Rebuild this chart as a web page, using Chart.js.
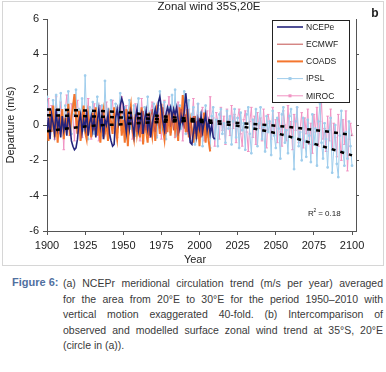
<!DOCTYPE html>
<html>
<head>
<meta charset="utf-8">
<script src="https://cdn.jsdelivr.net/npm/chart.js@4.4.0/dist/chart.umd.min.js"></script>
<style>
  body { margin: 0; background: #fff; }
  #wrap { position: relative; width: 386px; height: 372px; overflow: hidden; }
  #frame { position: absolute; left: 2px; top: 1px; width: 380px; height: 263px; border: 1px solid #d6d6d6; }
  #c { position: absolute; left: 0; top: 0; }
  .fig { position: absolute; left: 12px; top: 276px; font: bold 11px "Liberation Sans", Arial, sans-serif; color: #50709f; }
  .ln { position: absolute; left: 63px; width: 320px; font: 10.5px "Liberation Sans", Arial, sans-serif; color: #3a3a3a;
        white-space: nowrap; text-align: justify; text-align-last: justify; line-height: 15px; }
  .ln.last { text-align-last: left; }
</style>
</head>
<body>
<div id="wrap">
  <div id="frame"></div>
  <canvas id="c" width="386" height="268"></canvas>
  <div class="fig">Figure 6:</div>
  <div class="ln" style="top:276px">(a) NCEPr meridional circulation trend (m/s per year) averaged</div>
  <div class="ln" style="top:291.5px">for the area from 20°E to 30°E for the period 1950–2010 with</div>
  <div class="ln" style="top:307px">vertical motion exaggerated 40-fold. (b) Intercomparison of</div>
  <div class="ln" style="top:322.5px">observed and modelled surface zonal wind trend at 35°S, 20°E</div>
  <div class="ln last" style="top:338px">(circle in (a)).</div>
</div>
<script>
// axis ticks
const yearTicks = [1900, 1925, 1950, 1975, 2000, 2025, 2050, 2075, 2100];
const depTicks = [-6, -4, -2, 0, 2, 4, 6];

// NCEPe 1900-2010
const ncepStart = 1900;
const ncep = [
  -0.3, 0.4, -0.8, 0.6, 0.1, -0.5, 0.9, -0.2, 0.3, -0.7,
  0.5, -0.3, 0.2, -0.6, 0.7, 0.0, -0.9, -1.2, -1.4, -1.3,
  -0.8, 0.2, 0.6, -0.4, 0.3, -0.2, 0.8, -0.6, 0.1, 0.5,
  -0.3, 0.4, -0.7, 0.2, 0.9, -0.1, 0.5, -0.8, 0.3, 0.0,
  0.6, -0.5, -0.9, -1.2, -1.1, 0.4, 0.9, 0.2, 1.1, 1.5,
  1.2, 0.3, -0.4, 0.5, -0.2, 0.7, 0.1, -0.6, 0.4, 0.9,
  -0.3, 0.2, 0.6, -0.5, 0.3, 0.8, -0.2, 0.4, -0.7, 0.1,
  0.5, 0.9, 0.3, 1.3, 1.6, 1.0, 0.2, -0.3, 0.6, 1.0,
  0.7, 1.0, 0.4, 0.9, 0.6, 1.0, 0.3, -0.2, 0.5, 0.1,
  0.8, 1.8, 0.9, -0.3, -1.0, -1.1, -0.4, 0.2, -0.6, 0.3,
  -0.2, 0.5, -0.4, 0.1, 0.6, -0.3, 0.2, -0.5, 0.0, -0.7, -0.8
];

// ECMWF 1958-2002
const ecmwfStart = 1958;
const ecmwf = [
  0.3, -0.4, 0.6, 0.1, -0.5, 0.8, 0.2, -0.3, 0.5, -0.6,
  0.4, 0.9, 0.0, -0.4, 0.7, 0.3, -0.2, 0.6, 1.0, 0.2,
  -0.5, 0.4, 0.8, -0.1, 0.5, -0.3, 0.7, 0.2, -0.6, 0.4,
  0.9, 0.3, -0.2, 0.6, -0.4, 0.1, -0.8, 0.3, 0.5, -0.5,
  0.2, -0.3, 0.4, -0.7, 0.1
];

// COADS 1900-2007
const coadsStart = 1900;
const coads = [
  0.2, -0.9, 0.8, -0.4, 1.1, -0.7, 0.3, -1.0, 0.6, -0.2,
  0.9, -0.8, 0.4, -0.3, 1.2, -0.6, 0.5, 1.0, 1.75, 0.4,
  -0.5, 0.8, -0.9, 0.2, 1.1, -0.4, -0.8, 0.6, 0.0, -0.7,
  0.7, -0.3, 1.0, -0.6, 0.3, -1.0, 0.5, 0.9, -0.4, 0.1,
  -0.9, 0.6, 0.2, -0.5, 1.0, -0.2, -0.8, 0.4, 0.8, -0.6,
  0.3, -1.0, 0.9, -1.2, 0.5, 1.1, -0.3, -0.8, 0.6, -0.5,
  0.2, -0.7, 1.0, -1.1, 0.4, -0.3, -1.0, 0.7, 0.1, -0.6,
  0.5, -0.9, 0.8, 0.3, -0.5, 1.2, -0.2, -0.8, 0.6, -0.4,
  0.9, -0.6, 0.2, 0.7, -0.3, 0.4, -0.9, 1.0, 0.1, 1.7,
  0.6, -0.4, 0.9, -0.7, 0.3, -0.2, -1.0, 0.5, -0.8, 0.2,
  -1.2, 0.4, -0.6, 0.7, -1.0, 0.1, -0.9, -1.5
];

// IPSL 1900-2100
const ipslStart = 1900;
const ipsl = [
  1.6, 0.2, 0.9, -0.3, 1.4, 0.5, 1.7, -0.2, 0.8, 1.8,
  0.3, -0.6, 1.1, 0.4, 1.9, 0.1, -0.5, 1.2, 0.6, 2.0,
  -0.4, 0.9, 0.2, 1.5, -0.3, 2.8, 0.4, -0.8, 1.0, 0.3,
  1.3, -0.5, 0.7, 1.6, -0.2, 0.5, 1.1, -0.6, 2.5, 0.2,
  0.9, -0.7, 1.4, 0.0, 0.6, 1.2, -0.4, 0.8, 1.8, -0.3,
  0.5, 1.0, -0.8, 0.6, 1.4, -0.2, 0.3, 1.1, -0.6, 0.8,
  1.5, -0.1, 0.4, -0.9, 1.0, 0.2, 1.6, -0.5, 0.7, -0.2,
  1.2, 0.3, -0.7, 0.9, 1.9, -0.3, 0.5, 1.3, -0.8, 0.6,
  1.0, -0.4, 1.7, 0.2, 2.0, -0.6, 0.4, 1.1, -0.2, 0.8,
  1.9, -0.5, 0.3, 1.4, -0.9, 0.6, 1.0, -1.1, 0.2, 1.2,
  -0.3, 0.7, -1.2, 0.4, 1.1, -0.6, 0.2, -1.3, 0.5, 1.0,
  -0.8, 0.3, -1.2, 0.6, 0.9, -0.5, 0.1, -1.0, 0.8, -0.2,
  0.5, -1.1, 0.2, 0.9, -0.7, 0.4, -1.3, 0.7, -0.3, 0.1,
  -1.4, 0.6, 1.0, -0.5, -1.6, 0.3, -0.2, 0.9, -1.2, 0.1,
  1.0, -0.8, -0.1, -1.5, 0.5, -0.4, 0.2, -1.7, 0.8, -0.6,
  -1.3, 0.4, -0.2, -1.9, 0.6, 1.0, -1.0, -0.3, -1.6, 0.5,
  0.9, -0.7, -2.5, 0.2, 1.0, -1.2, -0.4, -2.0, 0.4, -0.9,
  -1.8, 0.3, -0.6, -2.1, 0.6, -1.1, -0.2, -2.3, 0.2, 1.2,
  -1.0, -1.9, 0.1, -0.8, -2.4, -0.3, 0.4, -2.7, -1.4, 0.0,
  -2.2, -2.95, -0.6, 0.8, -1.5, -2.3, -0.4, -1.9, 0.2, -1.2,
  -2.3
];

// MIROC 1900-2100
const mirocStart = 1900;
const miroc = [
  0.3, 1.5, -0.2, 1.1, 0.6, -0.8, 1.6, 0.2, -0.5, 1.3,
  0.4, -1.4, 0.9, 1.7, 0.1, -0.6, 1.2, 0.5, -0.9, 0.8,
  1.4, -0.2, 0.6, -0.7, 1.0, 0.3, -0.4, 1.5, 0.0, -0.8,
  0.9, 1.2, -0.3, 0.5, -0.9, 1.1, 0.2, 0.7, -0.5, 1.3,
  0.1, -0.6, 0.8, 1.4, -0.2, 0.5, -0.7, 1.0, 0.4, 1.6,
  -0.3, 0.6, 1.1, -0.5, 0.2, 0.9, -0.8, 0.4, 1.2, -0.1,
  0.7, -0.9, 1.5, 0.3, -0.4, 1.0, 0.0, -0.7, 0.8, 1.3,
  -0.2, 0.5, -0.6, 1.1, 0.3, -0.8, 0.9, 1.4, -0.3, 0.6,
  1.6, -0.4, 0.2, 1.0, -0.7, 0.5, 1.3, -0.2, 0.8, -0.9,
  0.4, 1.1, -0.5, 0.9, -1.0, 0.3, 1.5, -0.6, 0.1, 1.2,
  -0.4, 0.6, 1.0, -0.9, 0.3, 0.8, -0.7, 1.6, -0.2, 0.4,
  -1.2, 0.7, 0.2, -0.8, 1.0, -0.3, 0.5, -1.1, 0.9, 0.1,
  -0.6, 1.1, -0.2, 0.6, -1.0, 0.4, 0.9, -0.5, -1.2, 0.3,
  0.8, -0.4, -1.5, 0.2, 1.0, -0.7, 0.5, -1.1, 0.7, -0.2,
  0.4, -0.9, 0.9, -0.3, -1.3, 0.6, 0.1, -0.8, 1.0, -0.5,
  0.3, -1.0, 0.7, -0.4, -1.2, 0.8, 0.0, -0.9, 1.1, -0.6,
  0.2, -1.4, 0.6, -0.3, 1.0, -1.0, -0.2, 0.7, -1.3, 0.4,
  -0.5, 0.9, -1.1, 0.1, -1.6, 0.6, -0.4, 1.0, -1.2, 0.2,
  1.3, -0.8, -0.2, -1.5, 0.5, -0.9, 0.9, -1.4, 0.1, -0.7,
  -1.8, 0.6, -0.6, -2.0, 0.3, -1.1, 0.8, -2.6, -0.8, 0.1,
  -0.6
];

// trend lines
const trendYears = [1900, 1925, 1950, 1975, 2000, 2025, 2050, 2075, 2100];
const mirocTrend = [0.88, 0.82, 0.72, 0.5, 0.3, 0.12, -0.04, -0.28, -0.56];
const ipslTrend = [0.55, 0.5, 0.42, 0.32, 0.18, -0.05, -0.46, -1.06, -1.72];
const obsTrendYears = [1900, 1925, 1950, 1975, 2007];
const obsTrend = [-0.35, -0.08, 0.05, 0.18, 0.25];

function pts(start, vals) {
  return vals.map((v, i) => ({ x: start + i, y: v }));
}
function pairs(xs, ys) {
  return xs.map((x, i) => ({ x: x, y: ys[i] }));
}

const trendStyle = {
  borderColor: "#000",
  borderWidth: 2.5,
  borderDash: [4, 5],
  pointRadius: 0,
  fill: false,
  cubicInterpolationMode: "monotone",
  order: -1
};

const FONT = "'Liberation Sans', Arial, sans-serif";

const extras = {
  id: "extras",
  afterDatasetsDraw(chart) {
    const ctx = chart.ctx;
    ctx.save();
    // legend box
    const bx = 272, by = 20, bw = 77, bh = 82;
    ctx.fillStyle = "#fff";
    ctx.fillRect(bx, by, bw, bh);
    ctx.strokeStyle = "#222";
    ctx.lineWidth = 1;
    ctx.strokeRect(bx + 0.5, by + 0.5, bw, bh);
    const items = chart.data.datasets.filter(d => d.showInLegend);
    items.forEach((d, i) => {
      const yy = 27 + i * 17.2;
      ctx.strokeStyle = d.borderColor;
      ctx.lineWidth = d.borderWidth;
      ctx.setLineDash([]);
      ctx.beginPath();
      ctx.moveTo(277, yy);
      ctx.lineTo(303, yy);
      ctx.stroke();
      if (d.pointRadius > 0) {
        ctx.fillStyle = d.borderColor;
        ctx.fillRect(288.5, yy - 1.5, 3, 3);
      }
      ctx.fillStyle = "#222";
      ctx.font = "8.5px " + FONT;
      ctx.textBaseline = "middle";
      ctx.textAlign = "left";
      ctx.fillText(d.label, 306, yy + 0.5);
    });
    ctx.restore();
  },
  afterDraw(chart) {
    const ctx = chart.ctx;
    ctx.save();
    ctx.fillStyle = "#222";
    ctx.textBaseline = "middle";
    ctx.textAlign = "center";
    ctx.font = "11.5px " + FONT;
    ctx.fillText("Zonal wind 35S,20E", 209, 7);
    ctx.font = "bold 12px " + FONT;
    ctx.fillText("b", 375, 14);
    ctx.font = "11px " + FONT;
    ctx.fillText("Year", 195, 260);
    // R squared
    ctx.textAlign = "left";
    ctx.font = "8px " + FONT;
    ctx.fillText("R", 308, 214);
    ctx.font = "5px " + FONT;
    ctx.fillText("2", 313.5, 211);
    ctx.font = "8px " + FONT;
    ctx.fillText(" = 0.18", 316, 214);
    ctx.restore();
  }
};

new Chart(document.getElementById("c"), {
  type: "line",
  data: {
    datasets: [
      { label: "NCEPe", data: pts(ncepStart, ncep), borderColor: "#24247c", borderWidth: 1.6, pointRadius: 0, showInLegend: true },
      { label: "ECMWF", data: pts(ecmwfStart, ecmwf), borderColor: "#c2504e", borderWidth: 1, pointRadius: 0, showInLegend: true },
      { label: "COADS", data: pts(coadsStart, coads), borderColor: "#f4762e", borderWidth: 2, pointRadius: 0, showInLegend: true },
      { label: "IPSL", data: pts(ipslStart, ipsl), borderColor: "#9fcdec", backgroundColor: "#9fcdec", borderWidth: 1,
        pointRadius: 1.1, pointStyle: "rect", showInLegend: true },
      { label: "MIROC", data: pts(mirocStart, miroc), borderColor: "#f193c3", backgroundColor: "#f193c3", borderWidth: 1,
        pointRadius: 1.3, pointStyle: "line", showInLegend: true },
      Object.assign({ label: "MIROC trend", data: pairs(trendYears, mirocTrend) }, trendStyle),
      Object.assign({ label: "IPSL trend", data: pairs(trendYears, ipslTrend) }, trendStyle),
      Object.assign({ label: "Obs trend", data: pairs(obsTrendYears, obsTrend) }, trendStyle)
    ]
  },
  options: {
    responsive: false,
    animation: false,
    events: [],
    layout: { padding: { top: 19, left: 0, right: 0, bottom: 0 } },
    elements: { line: { tension: 0 } },
    plugins: {
      legend: { display: false },
      title: { display: false },
      tooltip: { enabled: false }
    },
    scales: {
      x: {
        type: "linear",
        min: 1900,
        max: 2102.6,
        afterBuildTicks: s => { s.ticks = yearTicks.map(v => ({ value: v })); },
        afterFit: s => { s.height = 37; },
        grid: { drawOnChartArea: false, tickLength: 4, color: "#555" },
        border: { color: "#555", width: 1 },
        ticks: { font: { size: 11, family: FONT }, color: "#222", padding: 4, maxRotation: 0, callback: v => String(v) }
      },
      y: {
        min: -6,
        max: 6,
        afterBuildTicks: s => { s.ticks = depTicks.map(v => ({ value: v })); },
        afterFit: s => { s.width = 47; },
        grid: { drawOnChartArea: false, tickLength: 4, color: "#555" },
        border: { color: "#555", width: 1 },
        ticks: { font: { size: 11, family: FONT }, color: "#222", padding: 4 },
        title: { display: true, text: "Departure (m/s)", font: { size: 11, family: FONT }, color: "#222" }
      },
      y2: {
        position: "right",
        min: -6,
        max: 6,
        afterBuildTicks: s => { s.ticks = depTicks.filter(v => v > -6 && v < 6).map(v => ({ value: v })); },
        afterFit: s => { s.width = 30; },
        grid: { drawOnChartArea: false, tickLength: 3, color: "#555" },
        border: { color: "#555", width: 1 },
        ticks: { display: false }
      }
    }
  },
  plugins: [extras]
});
</script>
</body>
</html>
